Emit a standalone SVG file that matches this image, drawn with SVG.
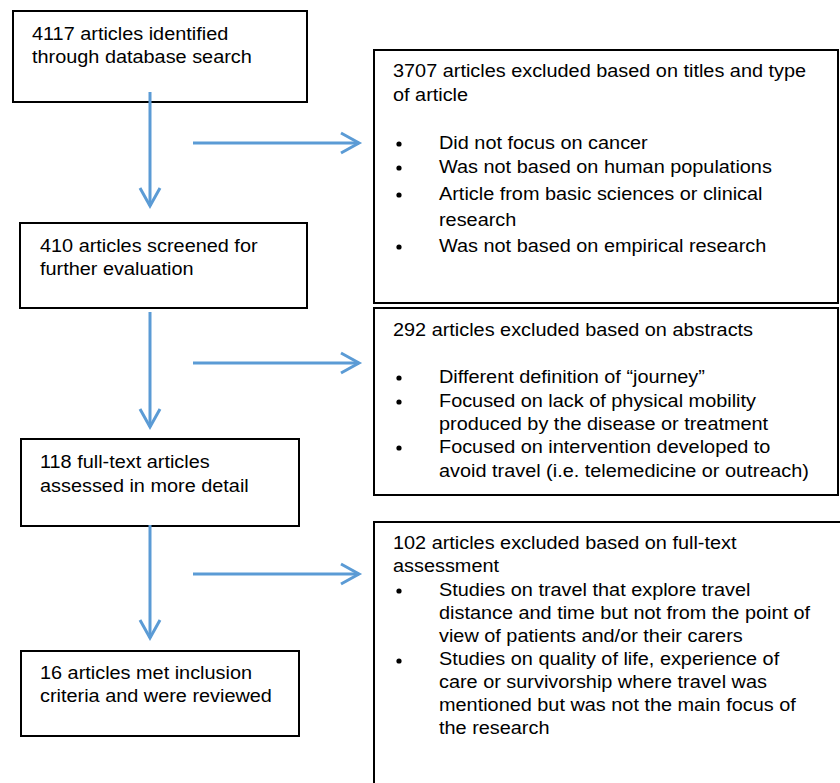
<svg xmlns="http://www.w3.org/2000/svg" width="840" height="783" viewBox="0 0 840 783">
<style>
.box{fill:#fff;stroke:#000;stroke-width:2}
.t{font-family:"Liberation Sans",Arial,Helvetica,sans-serif;font-size:18.5px;fill:#000}
.conn{stroke:#5b9bd5;stroke-width:3;fill:none}
.dot{fill:#000}
</style>
<defs>
<marker id="arr" markerUnits="userSpaceOnUse" viewBox="-22 -13 26 26" markerWidth="26" markerHeight="26" refX="0" refY="0" orient="auto">
<path d="M-18,-10 L0,0 L-18,10" fill="none" stroke="#5b9bd5" stroke-width="3"/>
</marker>
</defs>
<rect width="840" height="783" fill="#fff"/>

<g id="n1">
<rect class="box" x="13" y="11" width="294" height="91"/>
<text class="t" transform="translate(32,0) scale(1.075,1)"><tspan x="0" y="40">4117 articles identified</tspan><tspan x="0" y="63">through database search</tspan></text>
</g>

<g id="n2">
<rect class="box" x="20" y="223" width="287" height="85"/>
<text class="t" transform="translate(40,0) scale(1.075,1)"><tspan x="0" y="252">410 articles screened for</tspan><tspan x="0" y="275">further evaluation</tspan></text>
</g>

<g id="n3">
<rect class="box" x="21" y="439" width="278" height="87"/>
<text class="t" transform="translate(40,0) scale(1.075,1)"><tspan x="0" y="468">118 full-text articles</tspan><tspan x="0" y="492">assessed in more detail</tspan></text>
</g>

<g id="n4">
<rect class="box" x="21" y="651" width="278" height="85"/>
<text class="t" transform="translate(40,0) scale(1.075,1)"><tspan x="0" y="679">16 articles met inclusion</tspan><tspan x="0" y="702">criteria and were reviewed</tspan></text>
</g>

<g id="e1">
<rect class="box" x="374" y="50" width="464" height="253"/>
<text class="t" transform="translate(393,0) scale(1.075,1)"><tspan x="0" y="77">3707 articles excluded based on titles and type</tspan><tspan x="0" y="101">of article</tspan></text>
<circle class="dot" cx="399" cy="144" r="2.6"/>
<circle class="dot" cx="399" cy="168" r="2.6"/>
<circle class="dot" cx="399" cy="195" r="2.6"/>
<circle class="dot" cx="399" cy="247" r="2.6"/>
<text class="t" transform="translate(439,0) scale(1.075,1)"><tspan x="0" y="149">Did not focus on cancer</tspan><tspan x="0" y="173">Was not based on human populations</tspan><tspan x="0" y="200">Article from basic sciences or clinical</tspan><tspan x="0" y="226">research</tspan><tspan x="0" y="252">Was not based on empirical research</tspan></text>
</g>

<g id="e2">
<rect class="box" x="374" y="308" width="464" height="187"/>
<text class="t" transform="translate(393,0) scale(1.075,1)"><tspan x="0" y="336">292 articles excluded based on abstracts</tspan></text>
<circle class="dot" cx="399" cy="378" r="2.6"/>
<circle class="dot" cx="399" cy="402" r="2.6"/>
<circle class="dot" cx="399" cy="448" r="2.6"/>
<text class="t" transform="translate(439,0) scale(1.075,1)"><tspan x="0" y="383">Different definition of “journey”</tspan><tspan x="0" y="407">Focused on lack of physical mobility</tspan><tspan x="0" y="430">produced by the disease or treatment</tspan><tspan x="0" y="453">Focused on intervention developed to</tspan><tspan x="0" y="477">avoid travel (i.e. telemedicine or outreach)</tspan></text>
</g>

<g id="e3">
<rect class="box" x="374" y="522" width="480" height="300"/>
<text class="t" transform="translate(393,0) scale(1.075,1)"><tspan x="0" y="549">102 articles excluded based on full-text</tspan><tspan x="0" y="572">assessment</tspan></text>
<circle class="dot" cx="399" cy="591" r="2.6"/>
<circle class="dot" cx="399" cy="661" r="2.6"/>
<text class="t" transform="translate(439,0) scale(1.075,1)"><tspan x="0" y="596">Studies on travel that explore travel</tspan><tspan x="0" y="619">distance and time but not from the point of</tspan><tspan x="0" y="642">view of patients and/or their carers</tspan><tspan x="0" y="665">Studies on quality of life, experience of</tspan><tspan x="0" y="688">care or survivorship where travel was</tspan><tspan x="0" y="711">mentioned but was not the main focus of</tspan><tspan x="0" y="734">the research</tspan></text>
</g>

<g id="connectors">
<line class="conn" x1="150" y1="92" x2="150" y2="206" marker-end="url(#arr)"/>
<line class="conn" x1="150" y1="312" x2="150" y2="427" marker-end="url(#arr)"/>
<line class="conn" x1="150" y1="525" x2="150" y2="638" marker-end="url(#arr)"/>
<line class="conn" x1="193" y1="143" x2="359" y2="143" marker-end="url(#arr)"/>
<line class="conn" x1="193" y1="363" x2="359" y2="363" marker-end="url(#arr)"/>
<line class="conn" x1="193" y1="574" x2="359" y2="574" marker-end="url(#arr)"/>
</g>
</svg>
